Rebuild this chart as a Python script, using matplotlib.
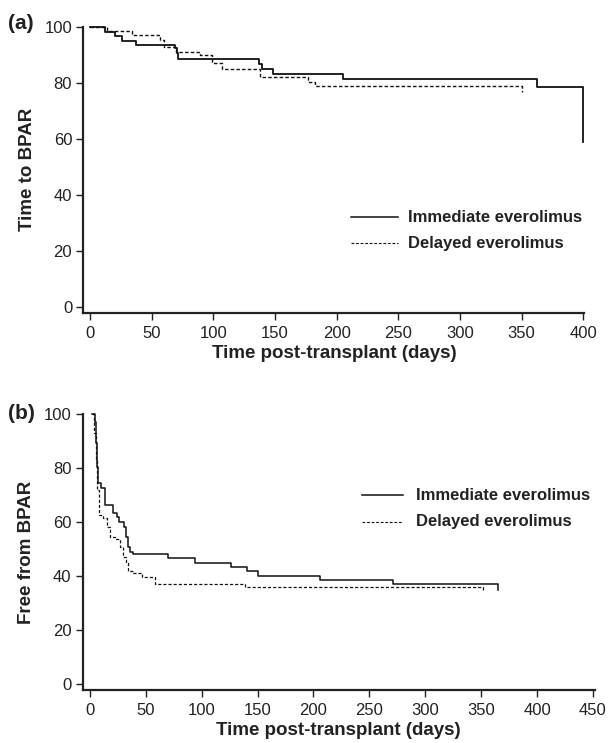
import matplotlib
matplotlib.use("Agg")
import matplotlib.pyplot as plt

plt.rcParams['font.family'] = ['Liberation Sans', 'DejaVu Sans']

# panel (a): time to BPAR (Kaplan-Meier steps)
a_imm_t = [0, 12.2, 20.3, 25.7, 37.3, 68.9, 70.3, 71.6, 137, 139.2, 148.7, 205.4, 362.7, 400]
a_imm_s = [100, 98.2, 96.8, 95.0, 93.5, 92.3, 90.5, 88.4, 86.6, 84.9, 83.1, 81.3, 78.6, 58.9]
a_del_t = [0, 13.5, 33.8, 56.8, 60, 70, 89.2, 98.7, 106.8, 137.8, 177, 182.4, 350]
a_del_s = [100, 98.6, 97.0, 95.2, 92.9, 91.1, 89.9, 86.9, 84.8, 81.9, 80.3, 78.7, 76.8]

# panel (b): free from BPAR
b_imm_t = [2, 4.6, 5.5, 6.6, 7.5, 9.6, 13.5, 20.3, 24.5, 26, 30.5, 32.3, 34.3, 35.9,
           38.3, 70.1, 94, 125.9, 140.2, 150.6, 205.8, 271.4, 365.3]
b_imm_s = [100, 97.1, 89.1, 80.4, 74.3, 72.4, 66.2, 63.2, 61.9, 60.0, 58.2, 54.5, 50.8, 48.9,
           47.9, 46.5, 44.8, 43.1, 41.9, 40.0, 38.6, 36.9, 34.7]
b_del_t = [2, 3.9, 5.1, 6.6, 7.8, 12, 15, 18, 22.5, 26.9, 29.3, 32, 33.8, 38.8,
           46.3, 58.2, 138.7, 351.9]
b_del_s = [100, 92.8, 82.9, 71.8, 62.5, 61.3, 58.2, 54.5, 53.5, 50.8, 47.0, 44.6, 41.9, 40.9,
           39.6, 36.9, 35.7, 34.7]

labels = ["Immediate everolimus", "Delayed everolimus"]

fig = plt.figure(figsize=(6.08, 7.43), dpi=100)
ax1 = fig.add_axes([0.137, 0.5787, 0.8243, 0.3854])
ax2 = fig.add_axes([0.1359, 0.0713, 0.8427, 0.3715])


def style(ax, xlim, ylim, xticks, ylabel):
    ax.set_xlim(*xlim)
    ax.set_ylim(*ylim)
    ax.set_xticks(xticks)
    ax.set_yticks(range(0, 101, 20))
    for s in ['top', 'right']:
        ax.spines[s].set_visible(False)
    for s in ['left', 'bottom']:
        ax.spines[s].set_linewidth(1.6)
        ax.spines[s].set_color('#222222')
    ax.tick_params(direction='out', length=5, width=1.0, labelsize=12,
                   colors='#222222', pad=3)
    ax.tick_params(axis='x', pad=4)
    ax.set_xlabel("Time post-transplant (days)", fontsize=13.5, fontweight='bold',
                  color='#222222', labelpad=3)
    ax.set_ylabel(ylabel, fontsize=13.5, fontweight='bold', color='#222222', labelpad=6)


def legend(ax, x0, x1, xt, y1, y2):
    ax.plot([x0, x1], [y1, y1], color='#111111', lw=1.1)
    ax.plot([x0, x1], [y2, y2], color='#111111', lw=0.8, dashes=(2.5, 1.6))
    ax.text(xt, y1, labels[0], fontsize=12, fontweight='bold', va='center', color='#222222')
    ax.text(xt, y2, labels[1], fontsize=12, fontweight='bold', va='center', color='#222222')


ax1.step(a_imm_t, a_imm_s, where='post', color='#111111', lw=1.3, clip_on=False)
ax1.step(a_del_t, a_del_s, where='post', color='#111111', lw=1.0, dashes=(2.5, 1.6),
         clip_on=False)
style(ax1, (-5.4, 401), (-2.3, 100), range(0, 401, 50), "Time to BPAR")
legend(ax1, 212, 250, 258, 32, 22.7)

ax2.step(b_imm_t, b_imm_s, where='post', color='#111111', lw=1.1, clip_on=False)
ax2.step(b_del_t, b_del_s, where='post', color='#111111', lw=0.9, dashes=(2.5, 1.6),
         clip_on=False)
style(ax2, (-6.5, 451.8), (-2.4, 100), range(0, 451, 50), "Free from BPAR")
legend(ax2, 243, 280, 292, 69.9, 60)

fig.text(0.013, 0.968, "(a)", fontsize=15, fontweight='bold', va='center', color='#222222')
fig.text(0.013, 0.443, "(b)", fontsize=15, fontweight='bold', va='center', color='#222222')

fig.savefig("out.png", dpi=100)
